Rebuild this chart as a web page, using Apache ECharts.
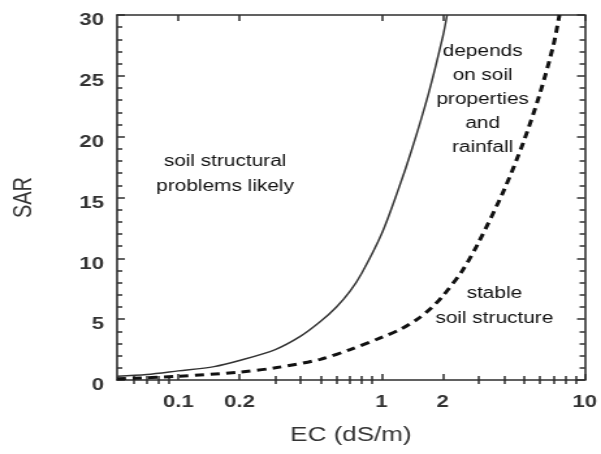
<!DOCTYPE html>
<html lang="en">
<head>
    <meta charset="UTF-8">
    <title>SAR vs EC</title>
    <script src="https://cdn.jsdelivr.net/npm/echarts@6.0.0/dist/echarts.min.js"></script>
    <style>
        html, body {
            margin: 0;
            padding: 0;
            background: #ffffff;
            overflow: hidden;
        }
        /* the source figure is stretched sideways, so draw narrow and widen it */
        #chart {
            width: 462px;
            height: 454px;
            transform: scaleX(1.3009);
            transform-origin: 0 0;
        }
    </style>
</head>
<body>
    <div id="chart"></div>

    <script>
        // solid line: boundary of "soil structural problems likely"
        var solidEC  = [0.05, 0.07, 0.1, 0.15, 0.2, 0.3, 0.4, 0.5, 0.6, 0.7, 0.8, 1.0, 1.2, 1.4, 1.7, 2.0, 2.1];
        var solidSAR = [0.3, 0.45, 0.75, 1.1, 1.6, 2.5, 3.6, 4.8, 6.0, 7.3, 8.8, 12, 15.5, 18.8, 23.5, 28.2, 30];

        // dashed line: boundary of "stable soil structure"
        var dashEC  = [0.05, 0.1, 0.2, 0.3, 0.5, 0.7, 1.0, 1.25, 1.5, 1.75, 2.0, 2.5, 3.0, 4.0, 5.0, 6.0, 7.0, 7.5];
        var dashSAR = [0.1, 0.3, 0.65, 1.0, 1.7, 2.5, 3.5, 4.2, 5.0, 5.9, 6.9, 9.0, 11.3, 15.6, 19.6, 23.5, 27.5, 30];

        var xLabels = [0.1, 0.2, 1, 2, 10];
        var xMinor  = [0.06, 0.07, 0.08, 0.09, 0.3, 0.4, 0.5, 0.6, 0.7, 0.8, 0.9,
                       3, 4, 5, 6, 7, 8, 9];

        var FONT = '"Liberation Sans", Arial, Helvetica, sans-serif';
        var INK = '#333';
        var FRAME = '#2e2e2e';

        function pairs(xs, ys) {
            var out = [];
            for (var i = 0; i < xs.length; i++) out.push([xs[i], ys[i]]);
            return out;
        }

        function logAxis(pos, withLabels) {
            return {
                type: 'log',
                position: pos,
                min: 0.05,
                max: 10,
                logBase: 10,
                name: withLabels ? 'EC (dS/m)' : '',
                nameLocation: 'middle',
                nameGap: 45,
                nameTextStyle: { fontFamily: FONT, fontSize: 20, color: INK },
                axisLine: { show: true, onZero: false, lineStyle: { color: FRAME, width: 1.6 } },
                axisTick: { show: true, inside: true, length: 6, customValues: xLabels,
                            lineStyle: { color: FRAME, width: 1.5 } },
                minorTick: { show: false },
                axisLabel: {
                    show: withLabels,
                    customValues: xLabels,
                    margin: 14,
                    fontFamily: FONT, fontSize: 17, fontWeight: 'bold', color: INK,
                    formatter: function (v) { return String(+v.toPrecision(3)); }
                },
                splitLine: { show: false }
            };
        }

        function minorLogAxis(pos) {
            return {
                type: 'log',
                position: pos,
                min: 0.05,
                max: 10,
                logBase: 10,
                axisLine: { show: false },
                axisTick: { show: true, inside: true, length: 4, customValues: xMinor,
                            lineStyle: { color: FRAME, width: 1.5 } },
                axisLabel: { show: false },
                splitLine: { show: false }
            };
        }

        function sarAxis(pos, withLabels) {
            return {
                type: 'value',
                position: pos,
                min: 0,
                max: 30,
                interval: 5,
                name: withLabels ? 'SAR' : '',
                nameLocation: 'middle',
                nameGap: 62,
                nameRotate: 90,
                nameTextStyle: { fontFamily: FONT, fontSize: 20, color: INK },
                axisLine: { show: true, onZero: false, lineStyle: { color: FRAME, width: 1.6 } },
                axisTick: { show: true, inside: true, length: 6, lineStyle: { color: FRAME, width: 1.5 } },
                minorTick: { show: true, splitNumber: 5, length: 4, lineStyle: { color: FRAME, width: 1.5 } },
                axisLabel: {
                    show: withLabels,
                    margin: 10,
                    verticalAlign: 'top',
                    lineHeight: 11,
                    fontFamily: FONT, fontSize: 17, fontWeight: 'bold', color: INK
                },
                splitLine: { show: false }
            };
        }

        var chart = echarts.init(document.getElementById('chart'));

        chart.setOption({
            animation: false,
            grid: { left: 89, right: 9, top: 15, bottom: 74 },
            xAxis: [logAxis('bottom', true), logAxis('top', false), minorLogAxis('bottom'), minorLogAxis('top')],
            yAxis: [sarAxis('left', true), sarAxis('right', false)],
            graphic: [
                {
                    type: 'text', x: 173, y: 149,
                    style: { text: 'soil structural\nproblems likely', fontFamily: FONT, fontSize: 16,
                             lineHeight: 25, fill: '#111', align: 'center', verticalAlign: 'top' }
                },
                {
                    type: 'text', x: 371, y: 40,
                    style: { text: 'depends\non soil\nproperties\nand\nrainfall', fontFamily: FONT, fontSize: 16,
                             lineHeight: 24, fill: '#111', align: 'center', verticalAlign: 'top' }
                },
                {
                    type: 'text', x: 380, y: 281,
                    style: { text: 'stable\nsoil structure', fontFamily: FONT, fontSize: 16,
                             lineHeight: 25, fill: '#111', align: 'center', verticalAlign: 'top' }
                }
            ],
            series: [
                {
                    type: 'line',
                    xAxisIndex: 0,
                    yAxisIndex: 0,
                    data: pairs(solidEC, solidSAR),
                    smooth: 0.3,
                    showSymbol: false,
                    lineStyle: { color: '#333', width: 1.5 }
                },
                {
                    type: 'line',
                    xAxisIndex: 0,
                    yAxisIndex: 0,
                    data: pairs(dashEC, dashSAR),
                    smooth: 0.3,
                    showSymbol: false,
                    lineStyle: { color: '#111', width: 3, type: [7, 5] }
                }
            ]
        });
    </script>
</body>
</html>
